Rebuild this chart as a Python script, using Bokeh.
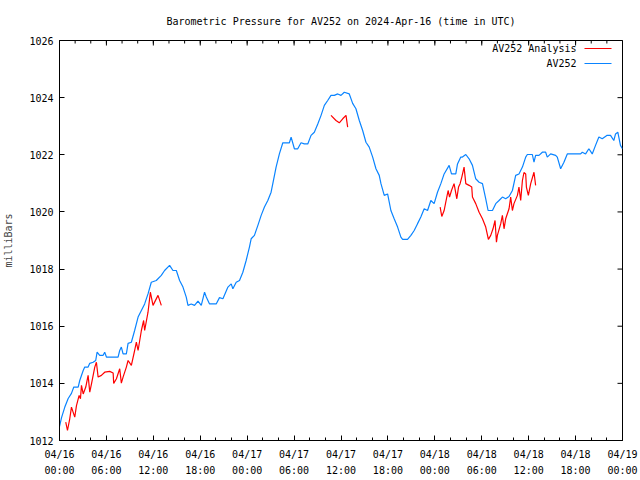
import math
import pandas as pd
from bokeh.plotting import figure
from bokeh.models import (FixedTicker, Range1d, Label, Arrow, DatetimeTickFormatter)
from bokeh.embed import file_html
from bokeh.resources import INLINE

# ---------------- data ----------------
START = pd.Timestamp("2024-04-16 00:00")
END = pd.Timestamp("2024-04-19 00:00")

# AV252 observed pressure (hours after 04/16 00:00 UTC, millibars)
blue_hours = [0.0, 0.26, 0.68, 1.11, 1.53, 1.83, 2.39, 2.59, 3.03, 3.23,
              3.66, 3.87, 4.30, 4.63, 4.81, 5.14, 5.58, 5.78, 6.0, 6.42,
              7.49, 7.70, 7.91, 8.13, 8.55, 8.77, 9.19, 9.61, 10.05, 10.47,
              10.89, 11.32, 11.74, 12.38, 13.02, 13.44, 14.08, 14.51, 14.94, 15.36,
              15.79, 16.21, 16.43, 16.85, 17.27, 17.71, 18.13, 18.55, 18.77, 19.19,
              20.04, 20.46, 20.90, 21.54, 21.96, 22.17, 22.6, 23.02, 23.45, 23.87,
              24.29, 24.51, 24.93, 25.37, 25.79, 26.21, 26.64, 27.06, 27.28, 27.70,
              28.12, 28.56, 29.40, 29.62, 30.04, 30.47, 30.89, 31.31, 31.75, 32.17,
              32.59, 33.03, 33.45, 33.87, 34.30, 34.72, 35.14, 35.58, 36.0, 36.42,
              37.06, 37.49, 37.91, 38.34, 38.77, 39.19, 39.61, 40.05, 40.47, 40.89,
              41.11, 41.53, 41.96, 42.38, 42.80, 43.24, 43.66, 43.88, 44.51, 44.94,
              45.36, 45.79, 46.21, 46.64, 47.07, 47.49, 47.91, 48.34, 48.77, 49.19,
              49.83, 50.13, 50.68, 50.90, 51.32, 51.53, 51.96, 52.38, 52.81, 53.23,
              53.66, 54.09, 54.51, 54.81, 55.37, 55.79, 56.21, 56.64, 57.06, 57.49,
              57.92, 58.34, 58.76, 59.20, 59.62, 59.83, 60.47, 60.68, 60.89, 61.32,
              61.75, 62.17, 62.38, 62.81, 63.45, 63.66, 64.09, 64.51, 64.94, 66.64,
              66.86, 67.28, 67.70, 68.13, 68.55, 68.98, 69.41, 70.04, 70.47, 70.89,
              71.11, 71.40, 71.74, 72.0]
blue_mbar = [1012.49, 1012.8, 1013.17, 1013.47, 1013.65, 1013.87, 1013.87, 1014.1, 1014.45, 1014.57,
             1014.57, 1014.7, 1014.74, 1014.8, 1015.09, 1014.98, 1014.98, 1015.09, 1014.92, 1014.92,
             1014.92, 1015.15, 1015.27, 1015.03, 1015.03, 1015.4, 1015.44, 1015.85, 1016.32, 1016.55,
             1016.78, 1017.13, 1017.54, 1017.6, 1017.78, 1017.95, 1018.13, 1017.95, 1017.95, 1017.6,
             1017.37, 1017.02, 1016.73, 1016.78, 1016.73, 1016.88, 1016.73, 1017.19, 1017.02, 1016.78,
             1016.78, 1017.0, 1016.96, 1017.37, 1017.48, 1017.31, 1017.54, 1017.6, 1017.89, 1018.3,
             1018.77, 1019.06, 1019.18, 1019.53, 1019.88, 1020.17, 1020.4, 1020.69, 1020.99, 1021.57,
             1022.03, 1022.42, 1022.42, 1022.62, 1022.21, 1022.21, 1022.42, 1022.38, 1022.38, 1022.68,
             1022.79, 1023.08, 1023.38, 1023.73, 1023.9, 1024.08, 1024.08, 1024.13, 1024.08, 1024.19,
             1024.13, 1023.8, 1023.61, 1023.2, 1022.85, 1022.44, 1022.27, 1021.92, 1021.51, 1021.28,
             1020.99, 1020.58, 1020.63, 1020.05, 1019.76, 1019.47, 1019.12, 1019.04, 1019.04, 1019.18,
             1019.35, 1019.59, 1019.82, 1020.11, 1020.05, 1020.4, 1020.29, 1020.69, 1020.99, 1021.33,
             1021.63, 1021.33, 1021.33, 1021.68, 1021.92, 1021.92, 1022.01, 1021.86, 1021.63, 1021.16,
             1021.04, 1020.99, 1020.46, 1020.05, 1020.05, 1020.29, 1020.4, 1020.52, 1020.46, 1020.54,
             1020.75, 1021.28, 1021.33, 1021.57, 1021.92, 1022.01, 1022.01, 1021.74, 1021.98, 1021.98,
             1022.09, 1022.09, 1021.92, 1022.03, 1021.98, 1021.92, 1021.51, 1021.74, 1022.03, 1022.03,
             1022.09, 1022.03, 1022.21, 1022.03, 1022.33, 1022.62, 1022.56, 1022.68, 1022.68, 1022.5,
             1022.73, 1022.79, 1022.33, 1022.21]

# AV252 Analysis (three separate runs)
red1_hours = [0.80, 1.02, 1.31, 1.53, 1.95, 2.17, 2.51, 2.68, 2.81, 3.03,
              3.36, 3.66, 3.87, 4.09, 4.51, 4.72, 4.94, 5.36, 5.78, 6.42,
              6.86, 6.93, 7.28, 7.70, 7.91, 8.13, 8.55, 8.77, 9.19, 9.61,
              9.83, 10.05, 10.47, 10.76, 10.89, 11.32, 11.62, 11.96, 12.60, 13.02]
red1_mbar = [1012.64, 1012.35, 1012.76, 1013.17, 1012.82, 1013.22, 1013.58, 1013.46, 1013.93, 1013.63,
             1013.87, 1014.28, 1013.69, 1013.98, 1014.57, 1014.74, 1014.22, 1014.28, 1014.39, 1014.42,
             1014.36, 1014.0, 1014.16, 1014.51, 1014.01, 1014.22, 1014.57, 1014.8, 1014.63, 1015.15,
             1015.44, 1015.15, 1015.85, 1016.2, 1015.85, 1016.49, 1017.19, 1016.73, 1017.08, 1016.73]
red2_hours = [34.72, 35.36, 35.78, 36.22, 36.64, 36.85]
red2_mbar = [1023.38, 1023.2, 1023.12, 1023.26, 1023.38, 1022.97]
red3_hours = [48.68, 48.89, 49.19, 49.40, 49.70, 49.88, 50.13, 50.46, 50.81, 51.03,
              51.23, 51.45, 51.74, 51.96, 52.38, 52.72, 52.81, 53.23, 53.66, 54.09,
              54.51, 54.85, 55.15, 55.44, 55.70, 55.88, 56.0, 56.43, 56.64, 56.85,
              57.06, 57.49, 57.70, 57.92, 58.12, 58.56, 58.76, 58.98, 59.2, 59.4,
              59.62, 59.71, 59.96, 60.26, 60.68, 60.89]
red3_mbar = [1020.17, 1019.84, 1020.05, 1020.34, 1020.75, 1020.52, 1020.75, 1020.99, 1020.46, 1020.87,
             1020.99, 1021.22, 1021.57, 1020.99, 1020.93, 1020.87, 1020.52, 1020.29, 1019.99, 1019.76,
             1019.47, 1019.04, 1019.18, 1019.41, 1019.7, 1018.94, 1019.18, 1019.59, 1019.88, 1019.41,
             1019.76, 1020.11, 1020.52, 1020.05, 1020.29, 1020.58, 1020.87, 1020.4, 1021.1, 1021.38,
             1021.33, 1020.87, 1020.58, 1020.99, 1021.39, 1020.93]

y_ticks = [1012, 1014, 1016, 1018, 1020, 1022, 1024, 1026]
x_major_hours = list(range(0, 73, 6))
x_minor_hours = list(range(0, 73, 2))

TITLE = "Barometric Pressure for AV252 on 2024-Apr-16 (time in UTC)"
Y_LABEL = "milliBars"
LEGEND = ["AV252 Analysis", "AV252"]
BLUE = "#0a84ff"
RED = "#ff0000"
FONT = "DejaVu Sans Mono"
FS = "10px"


def to_time(hours):
    return [START + pd.Timedelta(hours=h) for h in hours]


def to_ms(hours):
    return [(START + pd.Timedelta(hours=h)).timestamp() * 1000.0 for h in hours]


# ---------------- figure ----------------
p = figure(width=640, height=480, x_axis_type="datetime",
           x_range=Range1d(START, END), y_range=Range1d(1012, 1026),
           output_backend="svg", toolbar_location=None,
           min_border_left=58, min_border_right=18,
           min_border_top=40, min_border_bottom=40)
p.background_fill_color = "white"
p.border_fill_color = "white"
p.outline_line_color = "black"
p.outline_line_width = 1
p.grid.visible = False

frame_w = 564
frame_h = 400

p.title.text = TITLE
p.title.align = "center"
p.title.vertical_align = "middle"
p.title.standoff = 25
p.title.text_font = FONT
p.title.text_font_size = FS
p.title.text_font_style = "normal"
p.title.text_color = "black"

xticker = FixedTicker(ticks=to_ms(x_major_hours), minor_ticks=to_ms(x_minor_hours))
yticker = FixedTicker(ticks=y_ticks, minor_ticks=[])
fmt = "%m/%d\n%H:%M"
xfmt = DatetimeTickFormatter(microseconds=fmt, milliseconds=fmt, seconds=fmt,
                             minsec=fmt, minutes=fmt, hourmin=fmt, hours=fmt,
                             days=fmt, months=fmt, years=fmt, context=None,
                             strip_leading_zeros=False)

xa = p.below[0]
ya = p.left[0]
xa.ticker = xticker
xa.formatter = xfmt
xa.major_label_text_line_height = 1.5
xa.major_label_standoff = 8
ya.ticker = yticker
ya.axis_label = Y_LABEL
ya.axis_label_text_font = FONT
ya.axis_label_text_font_size = FS
ya.axis_label_text_font_style = "normal"
ya.axis_label_standoff = 12
ya.major_label_standoff = 6

for ax in [xa, ya]:
    ax.axis_line_color = "black"
    ax.major_tick_in = 5
    ax.major_tick_out = 0
    ax.minor_tick_in = 3
    ax.minor_tick_out = 0
    ax.major_tick_line_color = "black"
    ax.minor_tick_line_color = "black"
    ax.major_label_text_font = FONT
    ax.major_label_text_font_size = FS
    ax.major_label_text_color = "black"

# mirrored ticks on the top and right edges (half of each dash is clipped by the frame)
top_major = to_time(x_major_hours)
top_minor = to_time(x_minor_hours)
p.scatter(top_major, [1026] * len(top_major), marker="dash", angle=math.pi / 2,
          size=10, line_color="black", line_width=1)
p.scatter(top_minor, [1026] * len(top_minor), marker="dash", angle=math.pi / 2,
          size=6, line_color="black", line_width=1)
p.scatter([END] * len(y_ticks), y_ticks, marker="dash", angle=0,
          size=10, line_color="black", line_width=1)

p.line(to_time(blue_hours), blue_mbar, line_color=BLUE, line_width=1.2)
for hrs, vals in [(red1_hours, red1_mbar), (red2_hours, red2_mbar), (red3_hours, red3_mbar)]:
    p.line(to_time(hrs), vals, line_color=RED, line_width=1.2)

# legend drawn gnuplot-style: text right-aligned, sample line to its right
for i, (txt, col) in enumerate(zip(LEGEND, [RED, BLUE])):
    yy = frame_h - 8 - 15 * i
    p.add_layout(Label(x=frame_w - 47, y=yy, x_units="screen", y_units="screen",
                       text=txt, text_align="right", text_baseline="middle",
                       text_font=FONT, text_font_size=FS, text_color="black"))
    p.add_layout(Arrow(x_start=frame_w - 39, y_start=yy, x_end=frame_w - 12, y_end=yy,
                       start_units="screen", end_units="screen", end=None,
                       line_color=col, line_width=1.2))

open("out.html", "w").write(file_html(p, INLINE))
